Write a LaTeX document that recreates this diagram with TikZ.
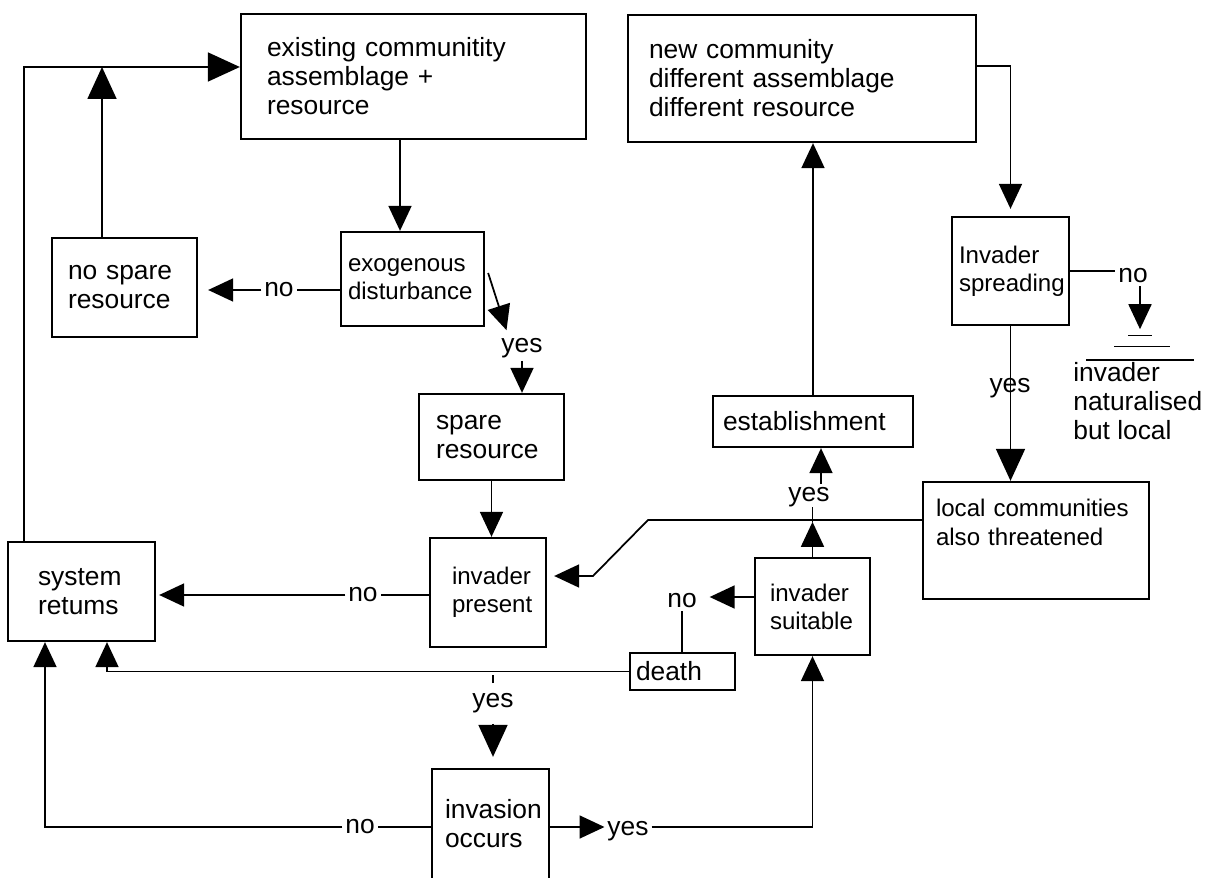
\documentclass[tikz,border=0pt]{standalone}
\usepackage{fontspec}
\setmainfont{Liberation Sans}
\usetikzlibrary{arrows.meta}
\newcommand{\mainsize}{\fontsize{15}{16.5}\selectfont}
\newcommand{\subsize}{\fontsize{13.7}{16}\selectfont}
\tikzset{
box/.style={draw, line width=1.3pt, align=left, font=\mainsize},
subbox/.style={box, font=\subsize},
lab/.style={font=\mainsize, inner sep=1.5pt},
line/.style={line width=1pt},
arr/.style={line, -{Triangle[length=5mm,width=4.6mm]}},
bigarr/.style={line, -{Triangle[length=6.4mm,width=5.8mm]}}
}

\begin{document}
\begin{tikzpicture}
\useasboundingbox (0,0) rectangle (24.36,-17.56);
% boxes
\node[box, text width=5.86cm, inner xsep=0.52cm, minimum height=2.5cm] (exist) at (8.27,-1.53) {existing communitity\\assemblage +\\resource};
\node[box, text width=6.12cm, inner xsep=0.42cm, minimum height=2.54cm] (new) at (16.04,-1.57) {new community\\different assemblage\\different resource};
\node[box, text width=2.26cm, inner xsep=0.32cm, minimum height=1.98cm] (nospare) at (2.49,-5.75) {no spare\\resource};
\node[subbox, text width=2.58cm, inner xsep=0.14cm, minimum height=1.88cm] (exo) at (8.25,-5.58) {exogenous\\disturbance};
\node[box, text width=2.22cm, inner xsep=0.34cm, minimum height=1.72cm] (spare) at (9.83,-8.74) {spare\\resource};
\node[subbox, text width=1.44cm, inner xsep=0.44cm, minimum height=2.18cm] (present) at (9.76,-11.85) {invader\\present};
\node[box, text width=1.74cm, inner xsep=0.6cm, minimum height=1.98cm] (sysret) at (1.63,-11.83) {system\\retums};
\node[subbox, text width=2.06cm, inner xsep=0.14cm, minimum height=2.16cm] (spread) at (20.21,-5.42) {Invader\\spreading};
\node[subbox, text width=4cm, inner xsep=0.26cm, minimum height=2.34cm] (local) at (20.72,-10.81) {local communities\\also threatened\\\strut};
\node[box, text width=3.6cm, inner xsep=0.2cm, minimum height=1.02cm] (est) at (16.26,-8.43) {establishment};
\node[subbox, text width=1.7cm, inner xsep=0.3cm, minimum height=1.94cm] (suit) at (16.25,-12.13) {invader\\suitable};
\node[box, text width=1.86cm, inner xsep=0.12cm, minimum height=0.74cm] (death) at (13.65,-13.43) {death};
\node[box, draw=none, text width=1.82cm, inner xsep=0.24cm, minimum height=2.14cm] (inv) at (9.81,-16.47) {invasion\\occurs};
\draw[line width=1.3pt] (inv.south west) -- (inv.north west) -- (inv.north east) -- (inv.south east);
\node[lab, anchor=north west, align=left, inner sep=0pt] (nat) at (21.46,-7.24) {invader\\naturalised\\but local};

% labels
\node[lab] (no1) at (5.58,-5.8) {no};
\node[lab] (yes1) at (10.44,-6.96) {yes};
\node[lab] (no2) at (7.26,-11.9) {no};
\node[lab] (yes2) at (9.86,-14.06) {yes};
\node[lab] (no3) at (7.2,-16.54) {no};
\node[lab] (yes3) at (12.56,-16.62) {yes};
\node[lab] (no4) at (13.64,-12.02) {no};
\node[lab] (yes4) at (16.18,-9.94) {yes};
\node[lab] (yes5) at (20.2,-7.76) {yes};
\node[lab] (no5) at (22.66,-5.52) {no};

% connectors
\coordinate (tl) at (0.48,-1.34);
\draw[bigarr] (tl |- sysret.north) -- (tl) -- (tl -| exist.west);
\draw[bigarr] ([xshift=-0.45cm]nospare.north) -- ([xshift=-0.45cm]nospare.north |- tl);
\draw[arr] ([xshift=-0.27cm]exist.south) -- ([xshift=-0.27cm]exist.south |- exo.north);
\draw[line] (exo.west |- no1) -- (no1);
\draw[arr, shorten >=0.2cm] (no1) -- (nospare.east |- no1);
\draw[arr] (exo.east) ++(0.06,0.12) -- ([xshift=0.16cm,yshift=0.1cm]yes1.north west);
\draw[arr] (yes1.south) -- (yes1.south |- spare.north);
\draw[arr] (spare.south) -- (spare.south |- present.north);
\coordinate (k1) at (12.96,-10.4);
\coordinate (k2) at (11.86,-11.52);
\draw[arr, shorten >=0.14cm] (k1 -| local.west) -- (k1) -- (k2) -- (k2 -| present.east);
\draw[line] (present.west |- no2) -- (no2);
\draw[arr, shorten >=0.06cm] (no2) -- (sysret.east |- no2);
\draw[line] (yes2.north) ++(0,0.14) -- ++(0,0.16);
\draw[bigarr, shorten <=0.16cm, shorten >=0.24cm] (yes2.south) -- (yes2.south |- inv.north);
\coordinate (bl) at (0.9,-16.54);
\draw[line] (inv.west |- no3) -- (no3);
\draw[arr] (no3) -- (bl) -- (bl |- sysret.south);
\draw[arr] (inv.east |- no3) -- (yes3.west |- no3);
\draw[arr] (yes3.east |- no3) -- (suit.south |- no3) -- (suit.south);
\coordinate (s1) at (0,-11.94);
\draw[arr, shorten >=0.2cm] (suit.west |- s1) -- (no4.east |- s1);
\draw[line] (no4.south) -- (no4.south |- death.north);
\coordinate (dl) at (2.14,-13.43);
\draw[arr] (death.west) -- (dl) -- (dl |- sysret.south);
\draw[arr] (suit.north) -- ++(0,0.7);
\draw[line] (suit.north) ++(0,0.7) -- ++(0,0.3);
\draw[arr] ([xshift=0.24cm]yes4.north) -- ([xshift=0.24cm]yes4.north |- est.south);
\draw[arr] (est.north) -- (est.north |- new.south);
\draw[arr, shorten >=0.14cm] ([yshift=0.25cm]new.east) -| (spread.north);
\draw[bigarr] (spread.south) -- (spread.south |- local.north);
\draw[line] (spread.east) -- (no5.west |- spread.east);
\draw[arr] ([xshift=0.14cm]no5.south) -- ++(0,-0.86) coordinate (gnd);
\draw[line width=0.6pt] (gnd) ++(-0.24,-0.12) -- ++(0.48,0);
\draw[line width=0.6pt] (gnd) ++(-0.52,-0.34) -- ++(1.12,0);
\draw[line] (gnd) ++(-1.08,-0.62) -- ++(2.16,0);
\end{tikzpicture}
\end{document}
